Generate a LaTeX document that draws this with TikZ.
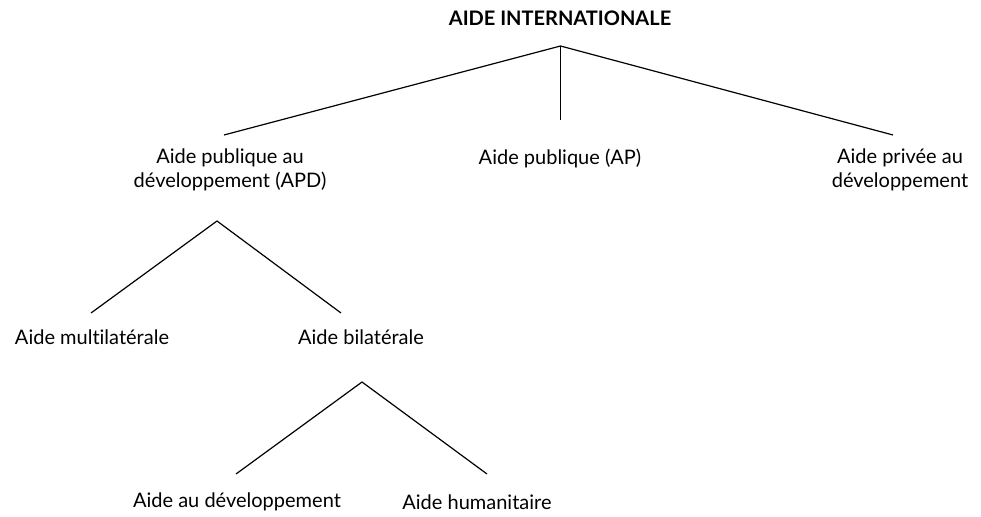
\documentclass[tikz,border=0pt]{standalone}
\usepackage{fontspec}
\setmainfont[Ligatures={NoCommon}]{Lato}
\begin{document}
\begin{tikzpicture}[x=1pt,y=-1pt,
  lbl/.style={inner sep=0pt,font=\fontsize{20}{24}\selectfont,align=center},
  br/.style={line width=1.2pt,black}]
\useasboundingbox (0,0) rectangle (981,516);
% texts
\node[lbl,font=\fontsize{20}{24}\selectfont\bfseries] (root) at (560,18) {AIDE INTERNATIONALE};
\node[lbl] (apd) at (230,170) {Aide publique au\\développement (APD)};
\node[lbl] (ap) at (560,158) {Aide publique (AP)};
\node[lbl] (apr) at (900,170) {Aide privée au\\développement};
\node[lbl] (multi) at (92,337) {Aide multilatérale};
\node[lbl] (bi) at (361,337) {Aide bilatérale};
\node[lbl] (dev) at (237,502) {Aide au développement};
\node[lbl] (hum) at (477,502) {Aide humanitaire};
% branch points
\coordinate (r0) at (560.5,46);
\coordinate (r1) at (224,135);
\coordinate (r2) at (560.5,120);
\coordinate (r3) at (893,135);
\coordinate (a0) at (217,221);
\coordinate (a1) at (91,313);
\coordinate (a2) at (341,313);
\coordinate (b0) at (362,382);
\coordinate (b1) at (236,474);
\coordinate (b2) at (487,474);
\draw[br] (r1) -- (r0) -- (r3);
\draw[br] (r0) -- (r2);
\draw[br] (a1) -- (a0) -- (a2);
\draw[br] (b1) -- (b0) -- (b2);
\end{tikzpicture}
\end{document}
